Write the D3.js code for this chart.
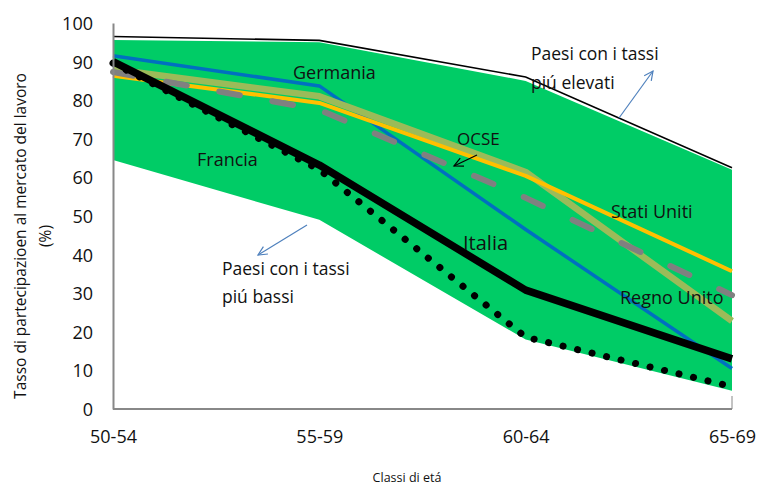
<!DOCTYPE html>
<html>
<head>
<meta charset="utf-8">
<script src="https://cdn.jsdelivr.net/npm/d3@7"></script>
<style>
  body { margin: 0; background: #fff; }
  text { font-family: "Open Sans", "Noto Sans", sans-serif; fill: #111; }
</style>
</head>
<body>
<div id="chart"></div>
<script>
// age classes
const classi = ["50-54", "55-59", "60-64", "65-69"]
const yTicks = [0, 10, 20, 30, 40, 50, 60, 70, 80, 90, 100]

// range of OECD countries (band)
const bandHigh = [95.6, 95, 85, 62]
const bandLow = [64.5, 49, 18, 4.7]
// black edge above the band
const paesiAlti = [96.5, 95.5, 86, 62.5]

const germania = [91.5, 83.7, 46.5, 10.5]
const regnoUnito = [88, 81, 61.4, 22.8]
const statiUniti = [86.3, 79.3, 60.4, 35.7]
const ocse = [87.3, 77.5, 54.7, 29.5]
const italia = [90, 63.2, 30.8, 13]
const francia = [89.6, 62, 18.6, 5.8]

const width = 758, height = 486

const svg = d3.select("#chart").append("svg")
    .attr("width", width)
    .attr("height", height)

const x = d3.scalePoint()
    .domain(classi)
    .range([113, 732])

const y = d3.scaleLinear()
    .domain([0, 100])
    .range([409, 23])

// green band
svg.append("path")
    .datum(classi.map((c, i) => ({c: c, hi: bandHigh[i], lo: bandLow[i]})))
    .attr("fill", "#00CC66")
    .attr("d", d3.area()
        .x(d => x(d.c))
        .y0(d => y(d.lo))
        .y1(d => y(d.hi)))

const line = d3.line()
    .x((d, i) => x(classi[i]))
    .y(d => y(d))

svg.append("path")
    .datum(paesiAlti)
    .attr("fill", "none")
    .attr("stroke", "#000")
    .attr("stroke-width", 1.6)
    .attr("d", line)

const series = [
    {v: germania, color: "#0070C0", w: 3.5},
    {v: regnoUnito, color: "#9BBB59", w: 6.5},
    {v: statiUniti, color: "#FFC000", w: 4},
    {v: ocse, color: "#808080", w: 6, dash: "21 33", cap: "round"},
    {v: francia, color: "#000", w: 7, dash: "0.1 14.8", cap: "round"},
    {v: italia, color: "#000", w: 7.5}
]

series.forEach(s => {
    svg.append("path")
        .datum(s.v)
        .attr("fill", "none")
        .attr("stroke", s.color)
        .attr("stroke-width", s.w)
        .attr("stroke-dasharray", s.dash || null)
        .attr("stroke-linecap", s.cap || "butt")
        .attr("stroke-linejoin", "round")
        .attr("d", line)
})

// axes
const axisY = svg.append("g")
    .attr("transform", "translate(113,0)")
    .call(d3.axisLeft(y).tickValues(yTicks).tickSize(0).tickPadding(20))
axisY.select(".domain").attr("stroke", "#888").attr("stroke-width", 2)
axisY.selectAll("text").style("font-size", "18px").attr("dy", "0.36em")

const axisX = svg.append("g")
    .attr("transform", "translate(0,409)")
    .call(d3.axisBottom(x).tickSize(0).tickPadding(21))
axisX.select(".domain").remove()
axisX.selectAll("text").style("font-size", "18px")
svg.append("line")
    .attr("x1", 113).attr("x2", x("65-69"))
    .attr("y1", 409).attr("y2", 409)
    .attr("stroke", "#888").attr("stroke-width", 2)
svg.append("line")
    .attr("x1", x("65-69")).attr("x2", x("65-69"))
    .attr("y1", 396).attr("y2", 409)
    .attr("stroke", "#888").attr("stroke-width", 1)

// axis titles
svg.append("text")
    .attr("transform", "translate(26,236) rotate(-90)")
    .attr("text-anchor", "middle")
    .style("font-size", "15.5px")
    .text("Tasso di partecipazioen al mercato del lavoro")
svg.append("text")
    .attr("transform", "translate(51,236) rotate(-90)")
    .attr("text-anchor", "middle")
    .style("font-size", "15.5px")
    .text("(%)")
svg.append("text")
    .attr("x", 407).attr("y", 482)
    .attr("text-anchor", "middle")
    .style("font-size", "12.5px")
    .text("Classi di etá")

// labels
const labels = [
    {t: "Germania", x: 293, y: 79, s: 18},
    {t: "Francia", x: 197, y: 166, s: 18},
    {t: "OCSE", x: 457, y: 145, s: 17},
    {t: "Stati Uniti", x: 611, y: 218, s: 18},
    {t: "Italia", x: 463, y: 250, s: 20},
    {t: "Regno Unito", x: 620, y: 304, s: 18},
    {t: "Paesi con i tassi", x: 531, y: 60, s: 17.5},
    {t: "piú elevati", x: 531, y: 89, s: 17.5},
    {t: "Paesi con i tassi", x: 222, y: 275, s: 17.5},
    {t: "piú bassi", x: 222, y: 303, s: 17.5}
]
svg.selectAll("text.lbl")
    .data(labels)
    .enter()
    .append("text")
    .attr("class", "lbl")
    .attr("x", d => d.x)
    .attr("y", d => d.y)
    .style("font-size", d => d.s + "px")
    .text(d => d.t)

// arrows
function arrow(x1, y1, x2, y2, color) {
    svg.append("line")
        .attr("x1", x1).attr("y1", y1).attr("x2", x2).attr("y2", y2)
        .attr("stroke", color).attr("stroke-width", 1.2)
    const a = Math.atan2(y2 - y1, x2 - x1)
    const L = 10, spread = 0.45
    const p = [
        [x2 - L * Math.cos(a - spread), y2 - L * Math.sin(a - spread)],
        [x2, y2],
        [x2 - L * Math.cos(a + spread), y2 - L * Math.sin(a + spread)]
    ]
    svg.append("path")
        .attr("d", d3.line()(p))
        .attr("fill", "none")
        .attr("stroke", color).attr("stroke-width", 1.2)
}
arrow(619, 118, 653, 71, "#4F81BD")
arrow(307, 225, 258, 255, "#4F81BD")
arrow(477, 155, 454, 166, "#000")
</script>
</body>
</html>
